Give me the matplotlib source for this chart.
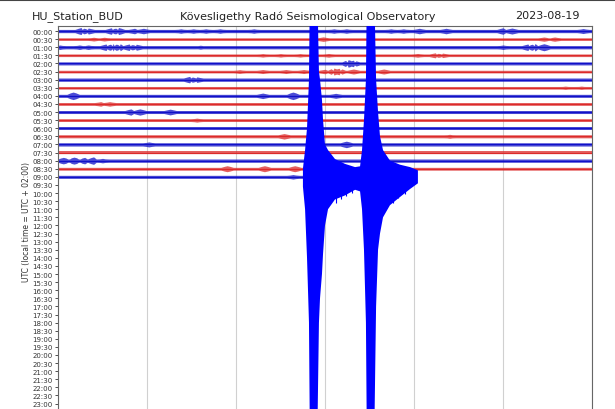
import numpy as np
import matplotlib.pyplot as plt
from matplotlib.lines import Line2D

# helicorder rows: 30 minutes per row, 00:00 ... 23:30
row_labels = ["%02d:%02d" % (h, m) for h in range(24) for m in (0, 30)]
n_rows_data = 19  # data present from 00:00 to 09:00

# background noise half-height of every row (approx. pixels)
row_base = [1.3, 1.0, 1.3, 1.0, 1.2, 1.0, 1.3, 1.0, 1.2, 1.1,
            1.2, 1.1, 1.3, 1.2, 1.3, 1.1, 1.3, 1.1, 1.2]

# local bursts per row: (minute, half-height)
row_bursts = {
    0: [(1.3, 2.8), (1.7, 2.4), (3.0, 2.6), (3.4, 2.8), (4.3, 2.2), (4.8, 2.2),
        (6.9, 1.8), (7.6, 1.8), (8.3, 1.8), (9.1, 1.8), (11.0, 1.8), (15.5, 1.8),
        (16.2, 1.8), (18.7, 1.8), (19.4, 1.8), (20.3, 2.2), (21.8, 2.2),
        (25.0, 2.6), (25.5, 2.4), (29.5, 2.0)],
    1: [(2.0, 1.5), (2.6, 1.5), (14.9, 1.8), (27.3, 1.7), (27.9, 1.7)],
    2: [(0.1, 1.8), (1.2, 1.8), (1.7, 1.8), (2.7, 2.6), (3.1, 3.0), (3.5, 2.8),
        (4.0, 2.6), (4.4, 2.4), (8.0, 1.6), (25.0, 1.8), (26.4, 2.6),
        (26.8, 3.0), (27.3, 2.8)],
    3: [(11.5, 1.4), (12.5, 1.4), (13.6, 1.4), (15.2, 1.5), (20.2, 1.5),
        (21.2, 2.0), (21.6, 1.8)],
    4: [(16.3, 3.0), (16.6, 2.6)],
    5: [(10.2, 1.5), (11.5, 1.6), (12.8, 1.6), (13.8, 1.6), (15.0, 1.8),
        (15.5, 2.8), (15.8, 2.6), (16.6, 2.0), (18.3, 2.0)],
    6: [(7.4, 2.6), (7.8, 2.2)],
    7: [(28.5, 1.3), (29.4, 1.3)],
    8: [(0.85, 3.0), (11.5, 2.2), (13.2, 3.0), (15.6, 2.0)],
    9: [(2.4, 1.8), (2.9, 1.8)],
    10: [(4.1, 2.5), (4.6, 2.5), (6.3, 2.3)],
    11: [(7.8, 1.6)],
    12: [],
    13: [(12.7, 2.2), (22.0, 1.6)],
    14: [(5.1, 2.0), (16.2, 2.6)],
    15: [],
    16: [(0.3, 2.6), (0.9, 2.8), (1.5, 2.6), (2.0, 3.0), (2.5, 1.8)],
    17: [(9.5, 2.4), (11.6, 2.4), (13.3, 2.4)],
    18: [(13.2, 1.8)],
}

# 09:00 row: two large events (minute, extent up, extent down) in row units
quake_min = [13.76, 13.88, 13.99, 14.10, 14.16, 14.55, 14.66, 14.72, 14.83, 14.89,
             15.00, 15.17, 15.56, 16.12, 16.69, 16.97, 17.08, 17.19, 17.30, 17.36,
             17.75, 17.87, 17.98, 18.09, 18.26, 18.65, 19.21, 19.78, 20.22]
quake_up = [1.0, 3.3, 6.0, 12.0, 25.0, 25.0, 13.0, 12.0, 9.5, 7.0,
            4.0, 3.3, 2.2, 1.6, 1.2, 1.3, 3.3, 7.0, 12.0, 25.0,
            25.0, 12.0, 8.0, 5.0, 3.3, 2.0, 1.5, 1.2, 0.8]
quake_down = [1.2, 4.0, 10.0, 18.0, 35.0, 35.0, 18.0, 15.0, 12.0, 9.5,
              6.0, 4.0, 2.8, 2.3, 1.6, 1.8, 4.0, 9.0, 18.0, 35.0,
              35.0, 16.0, 9.0, 7.0, 5.0, 3.5, 2.5, 1.5, 0.8]
# single long swings in the coda: (minute, lowest reach in rows below the line)
coda_spikes = [(15.3, 3.0), (15.6, 3.2), (15.9, 2.7), (16.2, 2.4), (16.5, 2.0),
               (18.4, 3.8), (18.8, 3.2), (19.1, 2.6), (19.5, 2.1)]

row_colors = ["#1010c8", "#dc2a2a"]
gain = 1.25 / 8.1  # trace units -> row spacing


def row_envelope(base, bursts, t_end):
    knots = {0.0: base, t_end: base}
    for m, a in bursts:
        knots[max(m - 0.35, 0.0)] = base
        knots[max(m - 0.15, 0.0)] = 0.8 * a
        knots[m] = a
        knots[min(m + 0.15, t_end)] = 0.8 * a
        knots[min(m + 0.35, t_end)] = base
    t = np.array(sorted(knots))
    a = np.array([knots[k] for k in t])
    return t, a * gain


fig = plt.figure(figsize=(6.15, 4.10), dpi=100)
ax = fig.add_axes([0.0943, -0.0188, 0.8683, 0.9529])

for i in range(n_rows_data):
    col = row_colors[i % 2]
    if i < n_rows_data - 1:
        t, a = row_envelope(row_base[i], row_bursts[i], 30.0)
        ax.fill_between(t, i - a, i + a, color=col, lw=0, alpha=0.75)
        ax.plot([0, 30], [i, i], color=col, lw=0.9)
    else:
        t, a = row_envelope(row_base[i], row_bursts[i], quake_min[0])
        ax.fill_between(t, i - a, i + a, color=col, lw=0, alpha=0.75)
        ax.plot([0, quake_min[0]], [i, i], color=col, lw=0.9)
        ax.fill_between(quake_min, [i - u for u in quake_up],
                        [i + d for d in quake_down], color="blue", lw=0, zorder=3)
        ax.vlines([s[0] for s in coda_spikes], i, [i + s[1] for s in coda_spikes],
                  color="blue", lw=0.8, zorder=3)

ax.set_xlim(0, 30)
ax.set_ylim(47.62, -0.62)
ax.set_yticks(range(len(row_labels)))
ax.set_yticklabels(row_labels[:-1] + [""], fontsize=5)
ax.set_xticks(range(0, 31, 5))
ax.tick_params(axis="y", length=2.5, width=0.6, pad=1.5, colors="#333333")
ax.tick_params(axis="x", length=0)
ax.set_xticklabels([])
ax.grid(axis="x", color="#d0d0d0", lw=0.8)
ax.set_axisbelow(True)
for s in ax.spines.values():
    s.set_color("#666666")
    s.set_linewidth(0.8)
ax.set_ylabel("UTC (local time = UTC + 02:00)", fontsize=5.5, labelpad=1, color="#333333")

fig.text(0.052, 0.96, "HU_Station_BUD", fontsize=8, ha="left", va="center", color="#222222")
fig.text(0.5, 0.96, "Kövesligethy Radó Seismological Observatory", fontsize=8,
         ha="center", va="center", color="#222222")
fig.text(0.943, 0.96, "2023-08-19", fontsize=8, ha="right", va="center", color="#222222")
# dark strip along the top edge of the screenshot
fig.add_artist(Line2D([0, 1], [0.998, 0.998], color="#444444", lw=1.5,
                      transform=fig.transFigure))

fig.savefig("out.png", dpi=100)
